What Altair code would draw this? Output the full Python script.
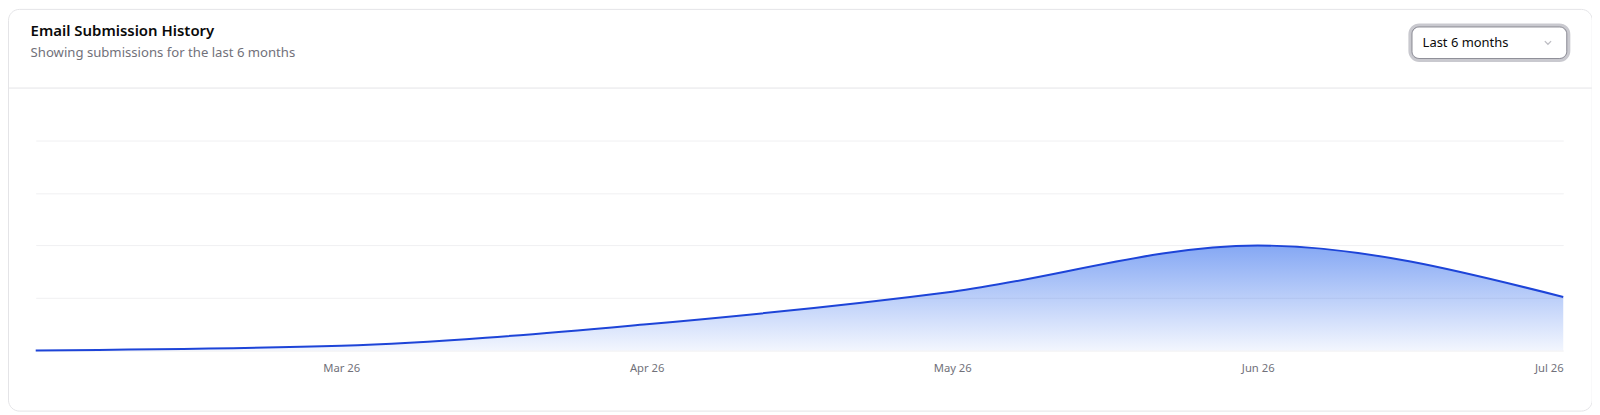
import altair as alt
import pandas as pd

# ---- data ----
months = ["Feb 26", "Mar 26", "Apr 26", "May 26", "Jun 26", "Jul 26"]
submissions = [0.0, 0.09, 0.5, 1.12, 2.0, 1.02]
y_ticks = [0, 1, 2, 3, 4]
shown_labels = ["Mar 26", "Apr 26", "May 26", "Jun 26", "Jul 26"]
title_text = "Email Submission History"
subtitle_text = "Showing submissions for the last 6 months"
select_text = "Last 6 months"

df = pd.DataFrame({"month": months, "value": submissions})
one = pd.DataFrame({"k": [0]})

FONT = "Noto Sans"
S = 1 / 0.977  # rendering is shown slightly reduced; compensate

# plot area in reference pixels
X0, X1, Y0, Y1 = 35, 1534, 137, 343
OX, OY = X0 * S, Y0 * S  # page position of view origin
W, H = (X1 - X0) * S, (Y1 - Y0) * S
PAD_L, PAD_T = OX - 8, OY - 8
PAD_R = 1599 - (OX + W)
PAD_B = 413 - (OY + H)


def px(x):
    return x * S - OX


def py(y):
    return y * S - OY


card = alt.Chart(one).mark_rect(
    fill="white", fillOpacity=0, stroke="#e4e4e7", strokeWidth=1, cornerRadius=11
).encode(
    x=alt.value(8.5 - OX), x2=alt.value(px(1562.5)),
    y=alt.value(8.5 - OY), y2=alt.value(py(402.5)),
)

sep = alt.Chart(one).mark_rule(color="#e4e4e7", strokeWidth=1).encode(
    x=alt.value(9 - OX), x2=alt.value(px(1562)), y=alt.value(py(85.5))
)

title = alt.Chart(one).mark_text(
    text=title_text, font=FONT, fontSize=15, fontWeight=600, color="#0a0a0a",
    align="left", baseline="middle",
).encode(x=alt.value(px(30)), y=alt.value(py(30)))

subtitle = alt.Chart(one).mark_text(
    text=subtitle_text, font=FONT, fontSize=13.2, color="#71717a",
    align="left", baseline="middle",
).encode(x=alt.value(px(30)), y=alt.value(py(51)))

sel_outer = alt.Chart(one).mark_rect(
    fill="white", stroke="#c9c9cf", strokeWidth=4, cornerRadius=9
).encode(
    x=alt.value(px(1384)), x2=alt.value(px(1539)),
    y=alt.value(py(24)), y2=alt.value(py(58)),
)
sel_inner = alt.Chart(one).mark_rect(
    fill="white", fillOpacity=0, stroke="#8f8f98", strokeWidth=1, cornerRadius=7
).encode(
    x=alt.value(px(1385.5)), x2=alt.value(px(1537.5)),
    y=alt.value(py(25.5)), y2=alt.value(py(56.5)),
)
sel_text = alt.Chart(one).mark_text(
    text=select_text, font=FONT, fontSize=13, color="#0a0a0a",
    align="left", baseline="middle",
).encode(x=alt.value(px(1396)), y=alt.value(py(41)))
chevron = alt.Chart(one).mark_point(
    shape="M-1,-0.5L0,0.5L1,-0.5", filled=False, stroke="#a1a1aa",
    size=40, strokeWidth=1.2,
).encode(x=alt.value(px(1519)), y=alt.value(py(41)))

x_enc = alt.X(
    "month:N", sort=months,
    scale=alt.Scale(type="point", padding=0),
    axis=alt.Axis(
        values=shown_labels, title=None, domain=False, ticks=False, grid=False,
        labelFont=FONT, labelFontSize=11.3, labelColor="#71717a",
        labelPadding=12, labelFlush=True, labelAngle=0,
    ),
)
y_enc = alt.Y(
    "value:Q",
    scale=alt.Scale(domain=[0, 4], nice=False),
    axis=alt.Axis(
        values=y_ticks, title=None, labels=False, ticks=False, domain=False,
        grid=True, gridColor="#f0f0f2", gridWidth=1,
    ),
)

area = alt.Chart(df).mark_area(
    interpolate="monotone",
    color=alt.Gradient(
        gradient="linear",
        stops=[
            alt.GradientStop(color="rgba(37,99,235,0.56)", offset=0),
            alt.GradientStop(color="rgba(37,99,235,0.06)", offset=1),
        ],
        x1=1, x2=1, y1=0, y2=1,
    ),
).encode(x=x_enc, y=y_enc)

line = alt.Chart(df).mark_line(
    interpolate="monotone", color="#1d44d8", strokeWidth=2
).encode(x=x_enc, y=y_enc)

chart = alt.layer(
    card, sep, title, subtitle, sel_outer, sel_inner, sel_text, chevron, area, line
).properties(
    width=W, height=H,
    background="white",
    padding={"left": PAD_L, "top": PAD_T, "right": PAD_R, "bottom": PAD_B},
    autosize=alt.AutoSizeParams(type="none"),
).configure_view(stroke="transparent", strokeWidth=0)

chart.save("out.html", embed_options={"renderer": "svg", "actions": False})
